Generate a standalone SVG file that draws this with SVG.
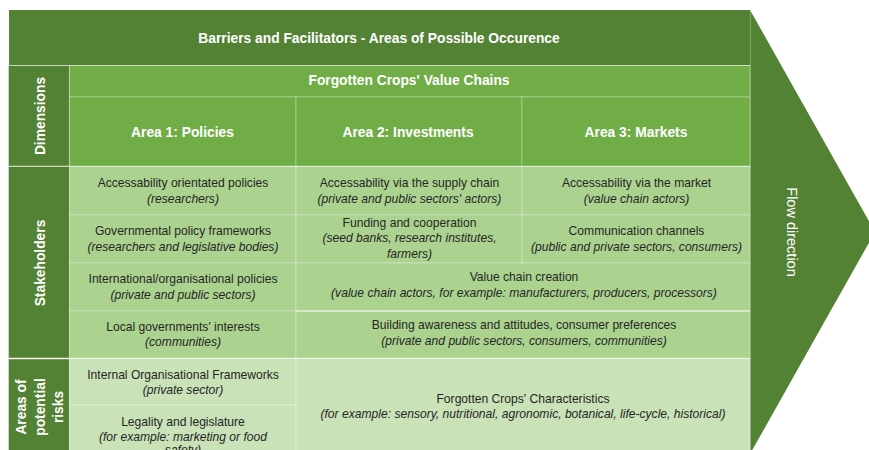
<svg xmlns="http://www.w3.org/2000/svg" width="869" height="450" viewBox="0 0 869 450">
  <style>
    .dark{fill:#548235}
    .hdr{fill:#70AD47;stroke:#ffffff;stroke-opacity:.3;stroke-width:1}
    .stk{fill:#ABD28F;stroke:#ffffff;stroke-opacity:.3;stroke-width:1}
    .rsk{fill:#C9E2B7;stroke:#ffffff;stroke-opacity:.35;stroke-width:1}
    .side{fill:#548235;stroke:#ffffff;stroke-opacity:.4;stroke-width:1}
    text{font-family:"Liberation Sans",Arial,sans-serif}
    .t{font-size:12.1px;fill:#262626;text-anchor:middle}
    .i{font-style:italic}
    .h{font-size:13.8px;font-weight:bold;fill:#ffffff;text-anchor:middle}
    .f{font-size:14.5px;fill:#ffffff;text-anchor:middle}
  </style>
  <rect width="869" height="450" fill="#ffffff"/>

  <!-- flow arrow behind the table -->
  <g id="flow-arrow">
    <polygon class="dark" points="750,10 875,232 750,454"/>
    <line x1="750.5" y1="10" x2="750.5" y2="454" stroke="#ffffff" stroke-opacity=".25"/>
    <text class="f" transform="translate(787,232) rotate(90)">Flow direction</text>
  </g>

  <!-- title banner -->
  <g id="banner">
    <rect class="dark" x="9" y="10" width="741" height="55"/>
    <text class="h" x="379" y="43">Barriers and Facilitators - Areas of Possible Occurence</text>
  </g>

  <!-- row labels on the left -->
  <g id="label-dimensions">
    <rect class="side" x="8.5" y="65.5" width="61" height="100.5"/>
    <text class="h" transform="translate(44.5,116) rotate(-90)">Dimensions</text>
  </g>
  <g id="label-stakeholders">
    <rect class="side" x="8.5" y="166.5" width="61" height="191.5"/>
    <text class="h" transform="translate(44.5,263) rotate(-90)">Stakeholders</text>
  </g>
  <g id="label-risks">
    <rect class="side" x="8.5" y="359" width="61" height="95"/>
    <text class="h" transform="translate(26,407) rotate(-90)">Areas of</text>
    <text class="h" transform="translate(44.5,407) rotate(-90)">potential</text>
    <text class="h" transform="translate(63,407) rotate(-90)">risks</text>
  </g>

  <!-- dimension headers -->
  <g id="value-chains">
    <rect class="hdr" x="69.5" y="65.5" width="680.5" height="31.5"/>
    <text class="h" x="409" y="85">Forgotten Crops' Value Chains</text>
  </g>
  <g id="area-policies">
    <rect class="hdr" x="69.5" y="97" width="226.5" height="69"/>
    <text class="h" x="182.5" y="137">Area 1: Policies</text>
  </g>
  <g id="area-investments">
    <rect class="hdr" x="296" y="97" width="226" height="69"/>
    <text class="h" x="408" y="137">Area 2: Investments</text>
  </g>
  <g id="area-markets">
    <rect class="hdr" x="522" y="97" width="228" height="69"/>
    <text class="h" x="636" y="137">Area 3: Markets</text>
  </g>

  <!-- stakeholders: policies column -->
  <g id="policy-accessability">
    <rect class="stk" x="69.5" y="166.5" width="226.5" height="48.5"/>
    <text class="t" x="183" y="187">Accessability orientated policies</text>
    <text class="t i" x="183" y="203">(researchers)</text>
  </g>
  <g id="policy-frameworks">
    <rect class="stk" x="69.5" y="215" width="226.5" height="48"/>
    <text class="t" x="183" y="235">Governmental policy frameworks</text>
    <text class="t i" x="183" y="251">(researchers and legislative bodies)</text>
  </g>
  <g id="policy-international">
    <rect class="stk" x="69.5" y="263" width="226.5" height="48"/>
    <text class="t" x="183" y="283">International/organisational policies</text>
    <text class="t i" x="183" y="298.5">(private and public sectors)</text>
  </g>
  <g id="policy-local">
    <rect class="stk" x="69.5" y="311" width="226.5" height="47"/>
    <text class="t" x="183" y="330.5">Local governments' interests</text>
    <text class="t i" x="183" y="346">(communities)</text>
  </g>

  <!-- stakeholders: investments column -->
  <g id="invest-supply-chain">
    <rect class="stk" x="296" y="166.5" width="226" height="48.5"/>
    <text class="t" x="409.5" y="187">Accessability via the supply chain</text>
    <text class="t i" x="409.5" y="203">(private and public sectors' actors)</text>
  </g>
  <g id="invest-funding">
    <rect class="stk" x="296" y="215" width="226" height="48"/>
    <text class="t" x="409.5" y="226.5">Funding and cooperation</text>
    <text class="t i" x="409.5" y="242">(seed banks, research institutes,</text>
    <text class="t i" x="409.5" y="258">farmers)</text>
  </g>

  <!-- stakeholders: markets column -->
  <g id="market-accessability">
    <rect class="stk" x="522" y="166.5" width="228" height="48.5"/>
    <text class="t" x="636.5" y="187">Accessability via the market</text>
    <text class="t i" x="636.5" y="202.5">(value chain actors)</text>
  </g>
  <g id="market-communication">
    <rect class="stk" x="522" y="215" width="228" height="48"/>
    <text class="t" x="636.5" y="234.5">Communication channels</text>
    <text class="t i" x="636.5" y="250.5">(public and private sectors, consumers)</text>
  </g>

  <!-- stakeholders: rows shared by investments and markets -->
  <g id="value-chain-creation">
    <rect class="stk" x="296" y="263" width="454" height="48"/>
    <text class="t" x="524" y="281">Value chain creation</text>
    <text class="t i" x="524" y="297">(value chain actors, for example: manufacturers, producers, processors)</text>
  </g>
  <g id="awareness">
    <rect class="stk" x="296" y="311" width="454" height="47"/>
    <line x1="296" y1="311" x2="750" y2="311" stroke="#ffffff" stroke-opacity=".75"/>
    <text class="t" x="524" y="328.5">Building awareness and attitudes, consumer preferences</text>
    <text class="t i" x="524" y="344.5">(private and public sectors, consumers, communities)</text>
  </g>

  <!-- areas of potential risks -->
  <g id="risk-internal">
    <rect class="rsk" x="69.5" y="358.5" width="226.5" height="46.5"/>
    <text class="t" x="183" y="378.5">Internal Organisational Frameworks</text>
    <text class="t i" x="183" y="393.5">(private sector)</text>
  </g>
  <g id="risk-legality">
    <rect class="rsk" x="69.5" y="405" width="226.5" height="50"/>
    <text class="t" x="183" y="426">Legality and legislature</text>
    <text class="t i" x="183" y="440.5">(for example: marketing or food</text>
    <text class="t i" x="183" y="454">safety)</text>
  </g>
  <g id="crop-characteristics">
    <rect class="rsk" x="296" y="358.5" width="454" height="96.5"/>
    <text class="t" x="523" y="403">Forgotten Crops' Characteristics</text>
    <text class="t i" x="523" y="418">(for example: sensory, nutritional, agronomic, botanical, life-cycle, historical)</text>
  </g>

  <g id="connectors"/>
</svg>
